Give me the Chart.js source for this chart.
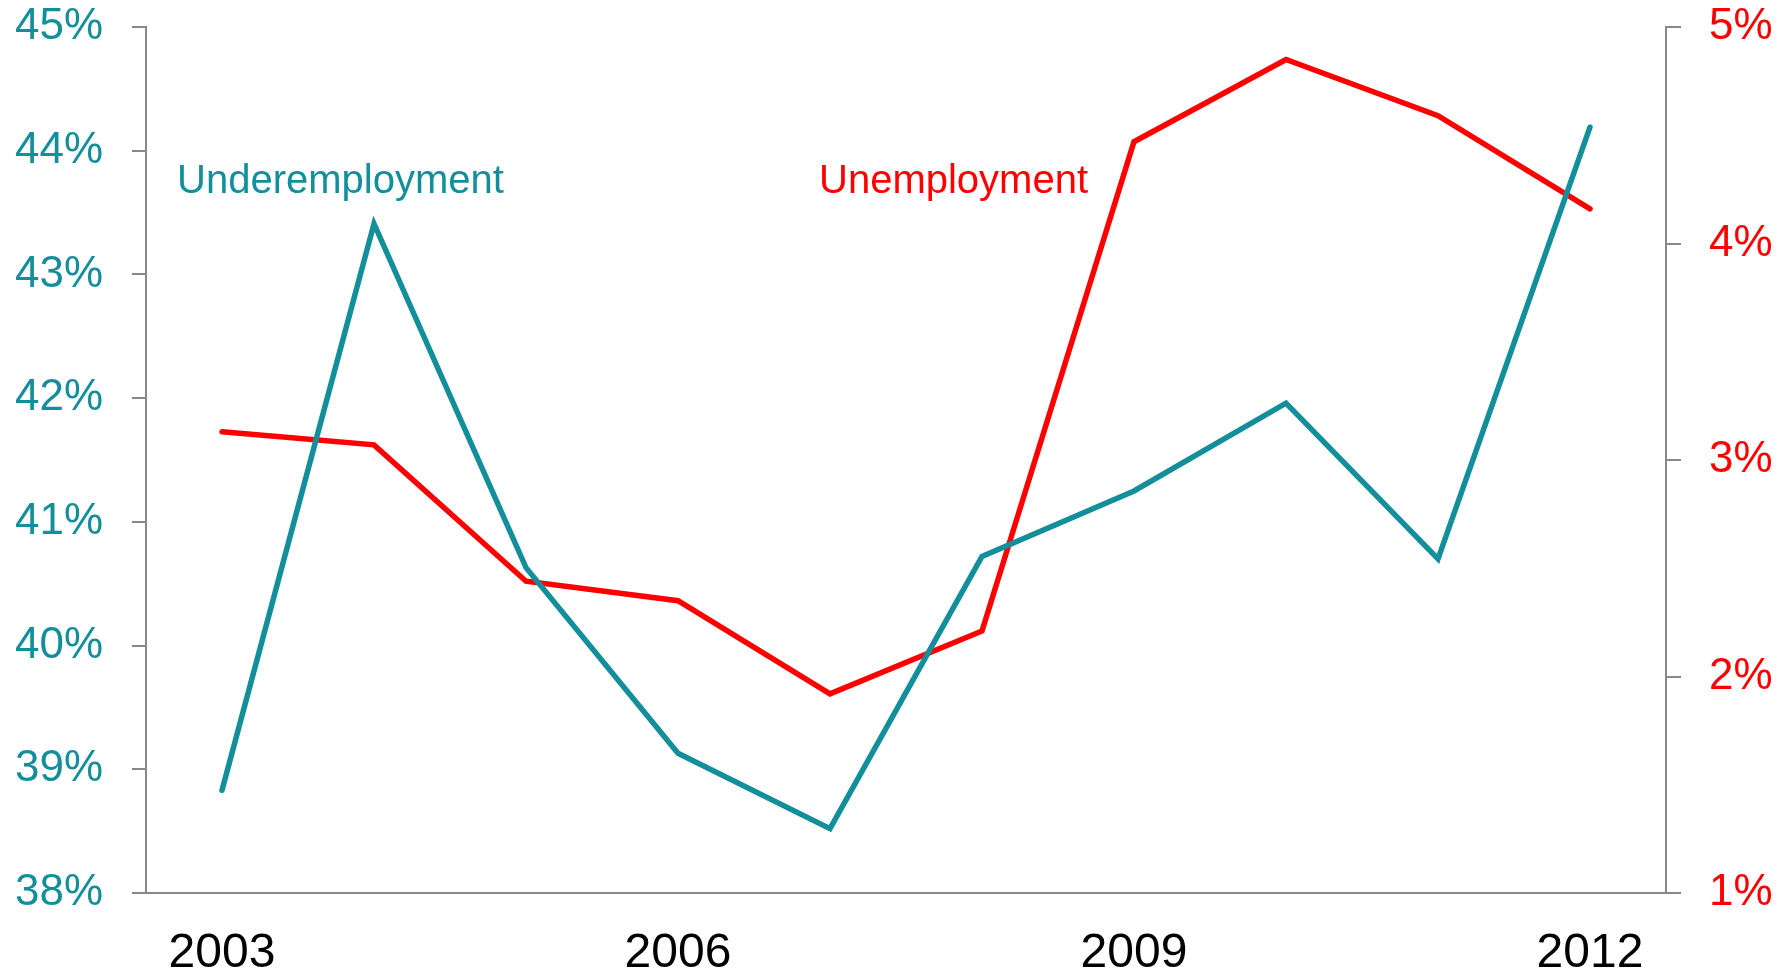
<!DOCTYPE html>
<html>
<head>
<meta charset="utf-8">
<script src="https://cdn.jsdelivr.net/npm/chart.js@4/dist/chart.umd.min.js"></script>
<style>
  html, body { margin: 0; padding: 0; background: #fff; }
  canvas { display: block; }
</style>
</head>
<body>
<canvas id="chart" width="1791" height="980"></canvas>
<script>
// data
var years = ['2003', '2004', '2005', '2006', '2007', '2008', '2009', '2010', '2011', '2012'];
var underemployment = [38.83, 43.41, 40.63, 39.13, 38.52, 40.72, 41.25, 41.96, 40.70, 44.19];
var unemployment = [3.13, 3.07, 2.44, 2.35, 1.92, 2.21, 4.47, 4.85, 4.59, 4.16];
var leftTicks = [38, 45];
var rightTicks = [1, 5];

var TEAL = '#138f9b';
var RED = '#ff0000';
var AXIS = '#888888';
var FONT = '"Liberation Sans", Arial, sans-serif';

// the two series names written inside the plot
var seriesLabels = {
    id: 'seriesLabels',
    afterDatasetsDraw: function(chart) {
        var c = chart.ctx;
        var x = chart.scales.x, y = chart.scales.y;
        c.save();
        c.font = '40px ' + FONT;
        c.textBaseline = 'alphabetic';
        c.textAlign = 'left';
        c.fillStyle = TEAL;
        c.fillText('Underemployment', x.getPixelForValue(0) - 45, y.getPixelForValue(43.66));
        c.fillStyle = RED;
        c.fillText('Unemployment', x.getPixelForValue(4) - 11, y.getPixelForValue(43.66));
        c.restore();
    }
};

function fixY(width) {
    return function(s) {
        s.width = width;
        s.paddingTop = 0;
        s.paddingBottom = 0;
    };
}

var ctx = document.getElementById('chart').getContext('2d');
var myChart = new Chart(ctx, {
    type: 'line',
    data: {
        labels: years,
        datasets: [{
            label: 'Underemployment',
            data: underemployment,
            yAxisID: 'y',
            borderColor: TEAL,
            borderWidth: 5.5,
            borderCapStyle: 'round',
            pointRadius: 0,
            tension: 0
        }, {
            label: 'Unemployment',
            data: unemployment,
            yAxisID: 'y2',
            borderColor: RED,
            borderWidth: 5.5,
            borderCapStyle: 'round',
            pointRadius: 0,
            tension: 0
        }]
    },
    options: {
        responsive: false,
        animation: false,
        layout: { padding: { top: 27, left: 0, right: 0, bottom: 0 } },
        plugins: {
            legend: { display: false },
            tooltip: { enabled: false }
        },
        scales: {
            x: {
                offset: true,
                grid: { display: false },
                border: { display: true, color: AXIS, width: 2 },
                ticks: {
                    autoSkip: false,
                    maxRotation: 0,
                    padding: 24,
                    color: '#000',
                    font: { family: FONT, size: 48 },
                    callback: function(v, i) { return i % 3 === 0 ? years[i] : ''; }
                },
                afterFit: function(s) { s.height = 87; }
            },
            y: {
                position: 'left',
                min: leftTicks[0],
                max: leftTicks[1],
                grid: { drawOnChartArea: false, color: AXIS, lineWidth: 2, tickLength: 14 },
                border: { display: true, color: AXIS, width: 2 },
                ticks: {
                    stepSize: 1,
                    padding: 29,
                    color: TEAL,
                    font: { family: FONT, size: 44 },
                    callback: function(v) { return v + '%'; }
                },
                afterFit: fixY(146)
            },
            y2: {
                position: 'right',
                min: rightTicks[0],
                max: rightTicks[1],
                grid: { drawOnChartArea: false, color: AXIS, lineWidth: 2, tickLength: 15 },
                border: { display: true, color: AXIS, width: 2 },
                ticks: {
                    stepSize: 1,
                    padding: 28,
                    color: RED,
                    font: { family: FONT, size: 44 },
                    callback: function(v) { return v + '%'; }
                },
                afterFit: fixY(125)
            }
        }
    },
    plugins: [seriesLabels]
});
</script>
</body>
</html>
